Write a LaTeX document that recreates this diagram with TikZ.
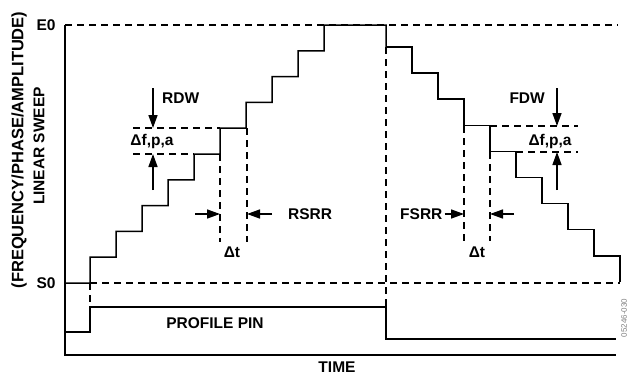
\documentclass[tikz,border=0pt]{standalone}
\usepackage{fontspec}
\setmainfont{Liberation Sans}
\usetikzlibrary{arrows.meta}

\begin{document}
\begin{tikzpicture}[x=1pt,y=-1pt,
  sig/.style={line width=1.5pt},
  guide/.style={line width=1.5pt,dash pattern=on 7pt off 5pt},
  dim/.style={line width=1.5pt,-{Triangle[length=13pt,width=9pt]}},
  lbl/.style={font=\fontsize{15.5}{18}\selectfont\bfseries,inner sep=0pt}]
\useasboundingbox (0,0) rectangle (629,375);

% axes
\draw[line width=2.5pt] (65,25) -- (65,355) -- (616,355);

% E0 and S0 levels
\draw[guide] (65,25) -- (618,25);
\draw[guide] (90,283) -- (620,283);

% rising sweep
\draw[sig] (65,283) \foreach \i in {1,...,10} {
    -- ({64+26*\i},{283-25.8*(\i-1)}) -- ({64+26*\i},{283-25.8*\i}) }
  -- (386,25) -- (386,47);
% falling sweep
\draw[sig] (386,47) \foreach \j in {1,...,9} {
    -- ({386+26*\j},{47+26.1*(\j-1)}) -- ({386+26*\j},{47+26.1*\j}) };

% profile pin
\draw[sig] (65,332) -- (90,332) -- (90,307) -- (386,307) -- (386,339) -- (616,339);
\draw[guide] (90,283) -- (90,307);
\draw[guide] (386,47) -- (386,307);

% ramp dwell / step
\draw[guide] (133,128) -- (220,128);
\draw[guide] (133,154) -- (194,154);
\draw[guide] (220,154) -- (220,242);
\draw[guide] (247,128) -- (247,242);
% fall dwell / step
\draw[guide] (490,126) -- (578,126);
\draw[guide] (516,152) -- (578,152);
\draw[guide] (464,126) -- (464,241);
\draw[guide] (490,152) -- (490,241);

% labels
\node[lbl] (e0) at (46,25) {E0};
\node[lbl] (s0) at (46,283) {S0};
\node[lbl,font=\fontsize{16.5}{18}\selectfont\bfseries,rotate=90] (ylabA) at (19,150) {(FREQUENCY/PHASE/AMPLITUDE)};
\node[lbl,rotate=90] (ylabB) at (39,146) {LINEAR SWEEP};
\node[lbl,anchor=west] (rdw) at (162,98) {RDW};
\node[lbl] (rdf) at (152,141) {Δf,p,a};
\node[lbl,anchor=west] (rsrr) at (288,214) {RSRR};
\node[lbl] (rdt) at (232,252) {Δt};
\node[lbl,anchor=east] (fdw) at (545,98) {FDW};
\node[lbl] (fdf) at (550,141) {Δf,p,a};
\node[lbl,anchor=west] (fsrr) at (400,214) {FSRR};
\node[lbl] (fdt) at (477,252) {Δt};
\node[lbl] (pin) at (215,323) {PROFILE PIN};
\node[lbl] (time) at (337,367) {TIME};
\node[font=\fontsize{8}{9}\selectfont,text=gray,rotate=90,inner sep=0pt] (fig) at (624,318) {05246-030};

% dimension arrows
\coordinate (rdwA) at (153,88);  \coordinate (rdwB) at (153,128);
\coordinate (rdwC) at (153,190); \coordinate (rdwD) at (153,154);
\coordinate (rsrA) at (195,214); \coordinate (rsrB) at (220,214);
\coordinate (rsrC) at (272,214); \coordinate (rsrD) at (247,214);
\coordinate (fdwA) at (557,88);  \coordinate (fdwB) at (557,126);
\coordinate (fdwC) at (557,190); \coordinate (fdwD) at (557,152);
\coordinate (fsrC) at (514,214); \coordinate (fsrD) at (490,214);
\coordinate (fsrB) at (464,214);
\draw[dim] (rdwA) -- (rdwB);
\draw[dim] (rdwC) -- (rdwD);
\draw[dim] (rsrA) -- (rsrB);
\draw[dim] (rsrC) -- (rsrD);
\draw[dim] (fdwA) -- (fdwB);
\draw[dim] (fdwC) -- (fdwD);
\draw[dim] (fsrr.east) ++(2,0) -- (fsrB);
\draw[dim] (fsrC) -- (fsrD);
\end{tikzpicture}
\end{document}
